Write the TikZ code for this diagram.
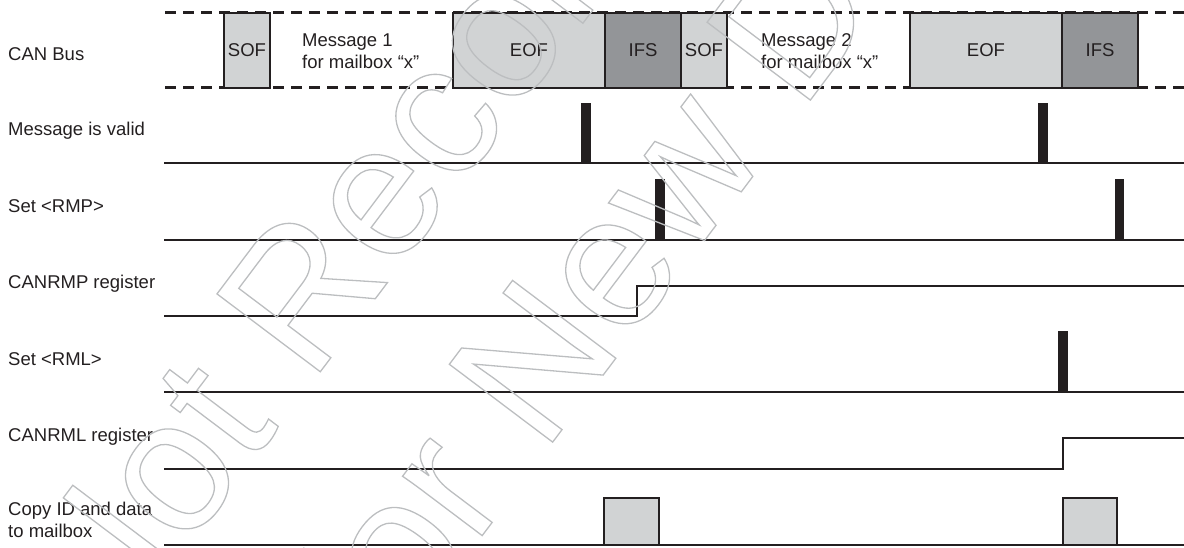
\documentclass[tikz,border=0pt]{standalone}
\usepackage{fontspec}
\setmainfont{Liberation Sans}
\usetikzlibrary{positioning}
\definecolor{ink}{HTML}{231F20}
\definecolor{lightbox}{HTML}{D1D3D4}
\definecolor{darkbox}{HTML}{939598}
\definecolor{wmgray}{HTML}{BCBEC0}
\newcommand\hollow[1]{\special{pdf:literal direct 1 Tr 1.3 w}#1\special{pdf:literal direct 0 Tr}}

\begin{document}
\begin{tikzpicture}[
  x=1pt, y=-1pt,
  node distance=0pt,
  lbl/.style={anchor=base west, inner sep=0pt, align=left, font=\fontsize{18.5}{21.5}\selectfont, text=ink},
  field/.style={draw=ink, line width=2pt, outer sep=0pt, inner sep=0pt, minimum height=75pt, font=\fontsize{18.5}{21.5}\selectfont, text=ink},
  sof/.style={field, fill=lightbox, minimum width=46pt},
  eof/.style={field, fill=lightbox, minimum width=152pt},
  ifs/.style={field, fill=darkbox, minimum width=76pt},
  bus/.style={ink, line width=2.4pt, dash pattern=on 11pt off 7pt},
  sig/.style={ink, line width=2.2pt},
  pulse/.style={fill=ink},
  copybox/.style={draw=ink, line width=2pt, fill=lightbox},
  wm/.style={anchor=base, inner sep=0pt, rotate=53, text=wmgray, font=\fontsize{188}{200}\selectfont}
]
  \useasboundingbox (0,0) rectangle (1184,547);

  \draw[bus] (165,12.5) -- (1184,12.5);
  \draw[bus] (165,87.5) -- (1184,87.5);
  \node[sof, anchor=north west] (sof1) at (224,12.5) {SOF};
  \node[eof, anchor=north west] (eof1) at (453,12.5) {EOF};
  \node[ifs, right=of eof1] (ifs1) {IFS};
  \node[sof, right=of ifs1] (sof2) {SOF};
  \node[eof, anchor=north west] (eof2) at (910,12.5) {EOF};
  \node[ifs, right=of eof2] (ifs2) {IFS};
  \node[lbl] (msg1) at (302,68) {Message 1\\for mailbox “x”};
  \node[lbl] (msg2) at (761,68) {Message 2\\for mailbox “x”};

  \node[lbl] (canbus) at (8,60) {CAN Bus};
  \node[lbl] (valid) at (8,135) {Message is valid};
  \node[lbl] (setrmp) at (8,212) {Set <RMP>};
  \node[lbl] (canrmp) at (8,288) {CANRMP register};
  \node[lbl] (setrml) at (8,365) {Set <RML>};
  \node[lbl] (canrml) at (8,441) {CANRML register};
  \node[lbl] (copy) at (8,537) {Copy ID and data\\to mailbox};

  \draw[sig] (164,162.7) -- (1184,162.7);
  \fill[pulse] (581,103) rectangle (591,163);
  \fill[pulse] (1038,103) rectangle (1048,163);
  \draw[sig] (164,240) -- (1184,240);
  \fill[pulse] (655,179) rectangle (665,240);
  \fill[pulse] (1115,179) rectangle (1124,240);
  \draw[sig] (164,316) -- (637,316) -- (637,286) -- (1184,286);
  \draw[sig] (164,392) -- (1184,392);
  \fill[pulse] (1058,331) rectangle (1068,392);
  \draw[sig] (164,469) -- (1063,469) -- (1063,438) -- (1184,438);
  \draw[sig] (164,545) -- (1184,545);
  \draw[copybox] (604,545) rectangle (659,498);
  \draw[copybox] (1063,545) rectangle (1117,498);

  \begin{scope}
    \clip (0,0) rectangle (1184,547);
    \node[wm] (wm1) at (591,12.5) {\hollow{Not Recommended}};
    \node[wm] (wm2) at (795,120.5) {\hollow{for New Designs}};
  \end{scope}
\end{tikzpicture}
\end{document}
